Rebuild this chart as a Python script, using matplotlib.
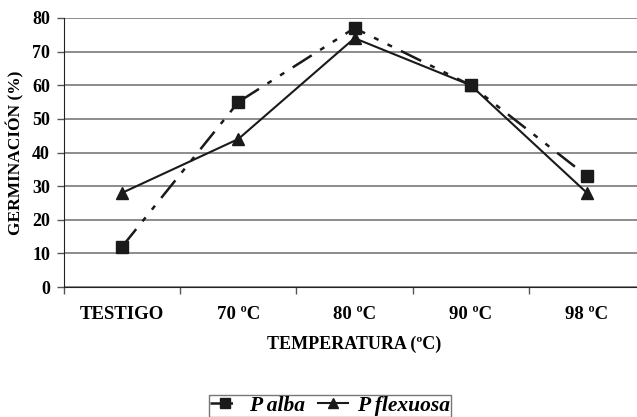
import matplotlib.pyplot as plt
import numpy as np

categorias = ['TESTIGO', '70 ºC', '80 ºC', '90 ºC', '98 ºC']
p_alba = [12, 55, 77, 60, 33]
p_flexuosa = [28, 44, 74, 60, 28]

plt.rcParams['font.family'] = ['Liberation Serif', 'DejaVu Serif']
plt.rcParams['font.weight'] = 'bold'

fig = plt.figure(figsize=(6.37, 4.17), dpi=100)
ax = fig.add_axes([64/637, 1-287/417, 581/637, 269/417])

x = np.arange(len(categorias))
l2, = ax.plot(x, p_flexuosa, color='#1a1a1a', lw=1.5, marker='^', ms=9,
              label='P flexuosa', zorder=3)
l1, = ax.plot(x, p_alba, color='#1a1a1a', lw=1.8, marker='s', ms=9,
              dashes=(9, 4, 2, 4, 2, 4), label='P alba', zorder=4)

ax.set_xlim(-0.5, 4.5)
ax.set_ylim(0, 80)
ax.set_yticks(np.arange(0, 81, 10))
ax.yaxis.grid(True, color='#6e6e6e', lw=1.1)
ax.set_axisbelow(True)

# ticks between categories, labels centred under each category
ax.set_xticks(np.arange(-0.5, 5, 1))
ax.set_xticklabels([])
ax.set_xticks(x, minor=True)
ax.set_xticklabels(categorias, minor=True)
ax.tick_params(axis='x', which='major', length=5, width=1, color='#555555')
ax.tick_params(axis='x', which='minor', length=0, pad=14, labelsize=13.5)
ax.tick_params(axis='y', length=5, width=1, labelsize=13, pad=5, color='#555555')

ax.spines['top'].set_visible(False)
ax.spines['right'].set_visible(False)
ax.spines['left'].set_color('#222222')
ax.spines['bottom'].set_color('#222222')

ax.set_xlabel('TEMPERATURA (ºC)', fontsize=13, fontweight='bold', labelpad=9)
ax.set_ylabel('GERMINACIÓN (%)', fontsize=12.5, fontweight='bold', labelpad=6)

fig.legend(handles=[l1, l2], loc='upper center', bbox_to_anchor=(0.518, 1-384/417),
           ncol=2, frameon=True, fancybox=False, edgecolor='#555555',
           prop={'family': 'Liberation Serif', 'weight': 'bold', 'style': 'italic', 'size': 15.5},
           handlelength=1.4, columnspacing=0.6, handletextpad=0.4, borderpad=0.05,
           markerscale=0.8)

fig.savefig('out.png', dpi=100)
